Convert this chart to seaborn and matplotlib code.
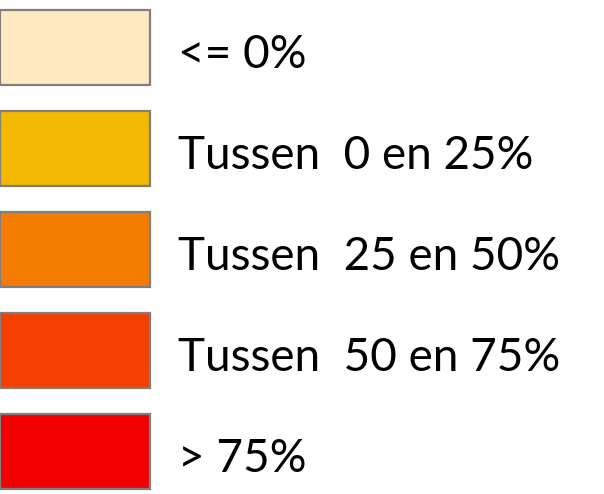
import matplotlib
matplotlib.use("Agg")
import matplotlib.pyplot as plt
import seaborn as sns
import pandas as pd

labels = ["<= 0%", "Tussen  0 en 25%", "Tussen  25 en 50%", "Tussen  50 en 75%", "> 75%"]
colors = ["#FFE9C0", "#F3B800", "#F47C00", "#F43F00", "#F20000"]
box_value = [1, 1, 1, 1, 1]

df = pd.DataFrame({"label": labels, "value": box_value})

sns.set_style("white")
plt.rcParams['font.family'] = ['Lato', 'DejaVu Sans']

fig = plt.figure(figsize=(6.04, 4.94), dpi=100)
ax = fig.add_axes([0, 0, 1, 1])
sns.barplot(data=df, x="value", y="label", hue="label", palette=colors,
            orient="h", width=0.74, legend=False, ax=ax,
            edgecolor="#7f7f7f", linewidth=1.6, saturation=1)

W, H = 604, 494
ax.set_xlim(0, W / 150.0)
ax.set_ylim((H - 47.5) / 101.0, -47.5 / 101.0)
for i, lab in enumerate(labels):
    ax.text(178 / 150.0, i + 0.2, lab, fontsize=33, color="black",
            va="baseline", ha="left")
ax.axis("off")
fig.savefig("out.png", dpi=100)
